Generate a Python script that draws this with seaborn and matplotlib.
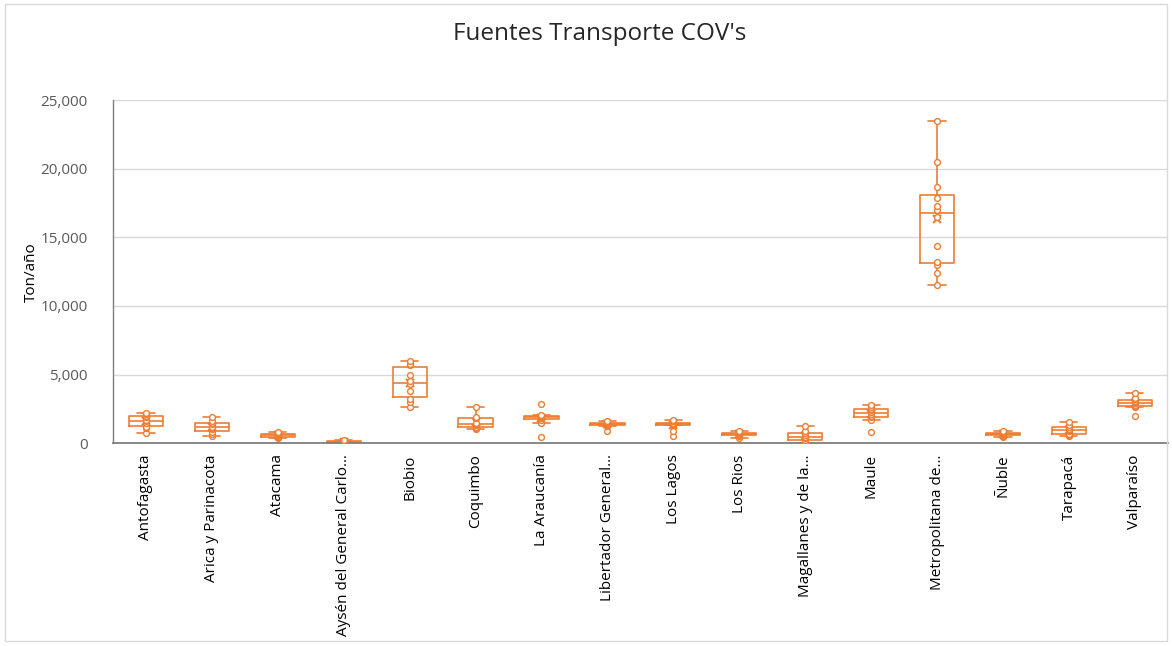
import numpy as np
import pandas as pd
import matplotlib
matplotlib.use("Agg")
import matplotlib.pyplot as plt
import seaborn as sns
from matplotlib.patches import Rectangle
from matplotlib.ticker import FuncFormatter

# --- data (Ton/año per region) ---
regions = [
    "Antofagasta", "Arica y Parinacota", "Atacama", "Aysén del General Carlo…",
    "Biobio", "Coquimbo", "La Araucanía", "Libertador General…",
    "Los Lagos", "Los Rios", "Magallanes y de la…", "Maule",
    "Metropolitana de…", "Ñuble", "Tarapacá", "Valparaíso",
]
antofagasta = [730, 1100, 1200, 1500, 1600, 1700, 1900, 2000, 2100, 2200]
arica = [500, 700, 800, 1000, 1100, 1200, 1400, 1500, 1600, 1900]
atacama = [350, 420, 480, 550, 600, 640, 700, 750, 800]
aysen = [20, 40, 60, 80, 100, 120, 150, 180, 250]
biobio = [2600, 3000, 3200, 3800, 4300, 4500, 5000, 5700, 5800, 6000]
coquimbo = [1000, 1100, 1150, 1300, 1400, 1500, 1800, 1900, 2600]
araucania = [440, 1460, 1700, 1800, 1850, 1900, 1950, 2000, 2050, 2840]
libertador = [900, 1250, 1300, 1350, 1400, 1450, 1500, 1550, 1600]
los_lagos = [500, 900, 1300, 1350, 1400, 1450, 1500, 1600, 1700]
los_rios = [400, 550, 600, 650, 700, 750, 800, 850]
magallanes = [20, 60, 200, 350, 450, 600, 750, 850, 1250]
maule = [800, 1700, 1900, 2000, 2150, 2300, 2400, 2500, 2600, 2750]
metropolitana = [11500, 12400, 13000, 13200, 14400, 16500, 17000, 17300,
                 17900, 18700, 20500, 23500]
nuble = [450, 550, 600, 650, 700, 750, 800, 850]
tarapaca = [500, 600, 700, 850, 950, 1050, 1200, 1300, 1550]
valparaiso = [2000, 2600, 2700, 2800, 2900, 3000, 3100, 3200, 3300, 3650]

series = [antofagasta, arica, atacama, aysen, biobio, coquimbo, araucania,
          libertador, los_lagos, los_rios, magallanes, maule, metropolitana,
          nuble, tarapaca, valparaiso]

df = pd.DataFrame(
    [(r, v) for r, vals in zip(regions, series) for v in vals],
    columns=["region", "value"],
)

orange = "#ED7D31"
grey_txt = "#595959"

sns.set_theme(style="white")
plt.rcParams["font.family"] = ["Open Sans", "DejaVu Sans"]

fig = plt.figure(figsize=(11.72, 6.46), dpi=100)
ax = fig.add_axes([0.0964, 0.314, 0.9, 0.531])

sns.boxplot(data=df, x="region", y="value", order=regions,
            fill=False, color=orange, width=0.52, linewidth=1.2,
            showfliers=False, whis=1.5, showmeans=True,
            meanprops={"marker": "x", "markeredgecolor": orange,
                       "markersize": 6, "markeredgewidth": 1.5},
            ax=ax)

sns.stripplot(data=df, x="region", y="value", order=regions,
              jitter=False, color="white", edgecolor=orange, linewidth=1.0,
              size=4.2, ax=ax, zorder=4)

ax.set_ylim(0, 25000)
ax.set_yticks(np.arange(0, 25001, 5000))
ax.yaxis.set_major_formatter(FuncFormatter(lambda v, p: f"{int(v):,}"))
ax.grid(True, axis="y", color="#d9d9d9", linewidth=1)
ax.set_axisbelow(True)
for s in ["top", "right"]:
    ax.spines[s].set_visible(False)
ax.spines["left"].set_color("#7f7f7f")
ax.spines["bottom"].set_color("#7f7f7f")
ax.spines["bottom"].set_linewidth(1.3)
ax.spines["left"].set_linewidth(1.0)

ax.set_xlabel("")
ax.set_ylabel("")
ax.tick_params(axis="y", labelsize=11, labelcolor=grey_txt, length=0, pad=18)
ax.tick_params(axis="x", labelsize=11, labelcolor="black", length=0,
               labelrotation=90, pad=8)

fig.text(0.027, 0.579, "Ton/año", rotation=90, ha="center", va="center",
         fontsize=11, color="black")
fig.text(0.512, 0.947, "Fuentes Transporte COV's", ha="center", va="center",
         fontsize=17.5, color="#262626")

fig.patches.append(Rectangle((0.004, 0.008), 0.992, 0.986,
                             transform=fig.transFigure, fill=False,
                             edgecolor="#d9d9d9", linewidth=1))

fig.savefig("out.png", dpi=100)
